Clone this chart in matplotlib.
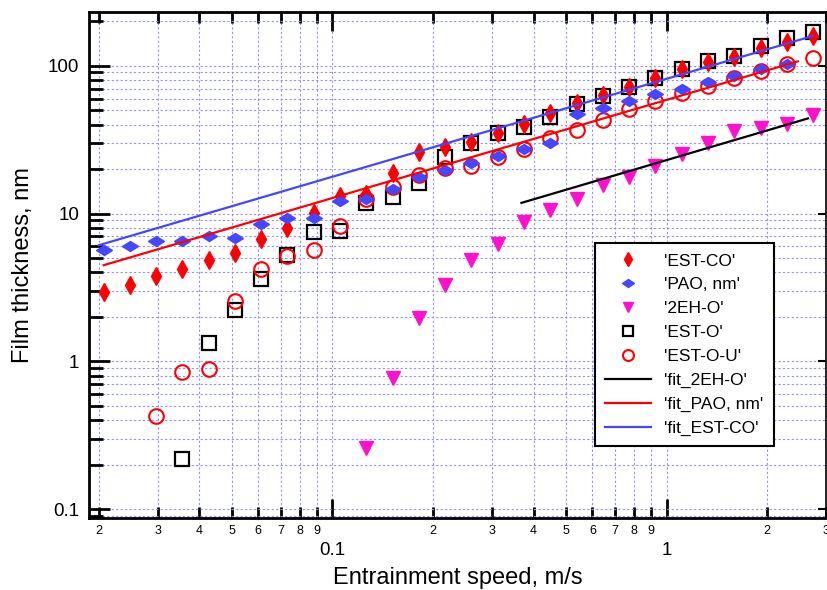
import numpy as np
import matplotlib
matplotlib.use("Agg")
import matplotlib.pyplot as plt
from matplotlib.markers import MarkerStyle
from matplotlib.transforms import Affine2D
from matplotlib.ticker import FixedLocator, FixedFormatter, NullFormatter, LogLocator

plt.rcParams['font.family'] = ['Liberation Sans', 'DejaVu Sans']

# entrainment speeds (m/s), shared by all series
speed = [0.0207, 0.0248, 0.0297, 0.0356, 0.0427, 0.0511, 0.0613, 0.0734, 0.0880,
         0.1055, 0.1264, 0.1515, 0.1816, 0.2177, 0.2608, 0.3126, 0.3747, 0.4491,
         0.5382, 0.6451, 0.7731, 0.9265, 1.110, 1.331, 1.595, 1.911, 2.291, 2.745]

est_co = [2.94, 3.27, 3.78, 4.22, 4.88, 5.41, 6.73, 8.0, 10.1, 13.2, 13.6, 18.9,
          25.9, 28.2, 30.5, 34.8, 40.2, 48.0, 55.6, 63.2, 71.9, 82.8, 94.4, 106,
          115, 132, 145, 160]
pao = [5.70, 6.01, 6.52, 6.56, 7.05, 6.80, 8.50, 9.34, 9.29, 12.06, 12.6, 14.6,
       17.7, 19.6, 21.8, 24.6, 27.5, 29.8, 47.0, 52.0, 57.8, 63.9, 69.2, 77.9,
       85.1, 94.8, 103]
eh2_o = [0.26, 0.776, 1.96, 3.27, 4.88, 6.2, 8.77, 10.5, 12.5, 15.5, 17.7, 20.9,
         25.1, 30.2, 36.3, 37.6, 40.2, 46.6]          # starts at speed[10]
est_o = [0.219, 1.32, 2.24, 3.59, 5.22, 7.51, 7.63, 11.7, 12.9, 16.1, 24.2, 30.2,
         34.8, 38.6, 44.7, 54.7, 62.5, 72.3, 82.8, 95.3, 107, 116, 136, 153, 169]  # from speed[3]
est_o_u = [0.424, 0.846, 0.892, 2.55, 4.24, 5.15, 5.70, 8.20, 12.6, 15.1, 18.2,
           20.2, 20.9, 24.2, 27.2, 32.5, 37.0, 43.0, 50.7, 57.8, 64.9, 73.1, 82.0,
           92.4, 102, 112]                               # from speed[2]

# power-law fit lines (end points)
fit_2eh_x, fit_2eh_y = [0.368, 2.65], [11.8, 44.0]
fit_pao_x, fit_pao_y = [0.0207, 2.47], [4.47, 107]
fit_estco_x, fit_estco_y = [0.020, 2.74], [6.1, 159]

x_major = [0.1, 1]
x_major_labels = ['0.1', '1']
x_minor = [0.02, 0.03, 0.04, 0.05, 0.06, 0.07, 0.08, 0.09,
           0.2, 0.3, 0.4, 0.5, 0.6, 0.7, 0.8, 0.9, 2, 3]
x_minor_labels = ['2', '3', '4', '5', '6', '7', '8', '9',
                  '2', '3', '4', '5', '6', '7', '8', '9', '2', '3']
y_major = [0.1, 1, 10, 100]
y_major_labels = ['0.1', '1', '10', '100']

blue = '#4646ff'
magenta = '#ff10cc'

fig = plt.figure(figsize=(8.27, 5.90), dpi=100)
ax = fig.add_axes([0.1076, 0.122, 0.8912, 0.8577])
ax.set_xscale('log')
ax.set_yscale('log')

hdiamond = MarkerStyle('d', transform=Affine2D().rotate_deg(90))

h_co, = ax.plot(speed, est_co, ls='none', marker='d', ms=9, color='red', mec='red', label="'EST-CO'", zorder=4)
h_pao, = ax.plot(speed[:len(pao)], pao, ls='none', marker=hdiamond, ms=8.5, color=blue, mec=blue, label="'PAO, nm'", zorder=4)
h_eh, = ax.plot(speed[10:], eh2_o, ls='none', marker='v', ms=10.5, color=magenta, mec=magenta, label="'2EH-O'", zorder=3)
h_o, = ax.plot(speed[3:], est_o, ls='none', marker='s', ms=9.5, mfc='none', mec='black', mew=1.6, label="'EST-O'", zorder=3)
h_ou, = ax.plot(speed[2:], est_o_u, ls='none', marker='o', ms=10.5, mfc='none', mec='red', mew=1.5, label="'EST-O-U'", zorder=3)

f_eh, = ax.plot(fit_2eh_x, fit_2eh_y, color='black', lw=1.6, label="'fit_2EH-O'", zorder=5)
f_pao, = ax.plot(fit_pao_x, fit_pao_y, color='red', lw=1.6, label="'fit_PAO, nm'", zorder=5)
f_co, = ax.plot(fit_estco_x, fit_estco_y, color=blue, lw=1.6, label="'fit_EST-CO'", zorder=5)

ax.set_xlim(0.0187, 3.0)
ax.set_ylim(0.087, 231)

ax.xaxis.set_major_locator(FixedLocator(x_major))
ax.xaxis.set_major_formatter(FixedFormatter(x_major_labels))
ax.xaxis.set_minor_locator(FixedLocator(x_minor))
ax.xaxis.set_minor_formatter(FixedFormatter(x_minor_labels))
ax.yaxis.set_major_locator(FixedLocator(y_major))
ax.yaxis.set_major_formatter(FixedFormatter(y_major_labels))
ax.yaxis.set_minor_locator(LogLocator(base=10, subs=np.arange(2, 10), numticks=20))
ax.yaxis.set_minor_formatter(NullFormatter())

ax.tick_params(which='both', direction='in', top=True, right=True, width=2)
ax.tick_params(axis='x', which='major', length=14, labelsize=13.5, pad=17)
ax.tick_params(axis='x', which='minor', length=8, labelsize=9, pad=5)
ax.tick_params(axis='y', which='major', length=15, labelsize=13.5, pad=7)
ax.tick_params(axis='y', which='minor', length=10, right=False)
for t in ax.yaxis.get_major_ticks():
    t.tick2line.set_markersize(6)
    t.tick2line.set_markeredgewidth(1.5)

for side in ['left', 'bottom', 'top']:
    ax.spines[side].set_linewidth(2)
ax.spines['right'].set_linewidth(1.2)

ax.set_axisbelow(True)
ax.grid(True, which='both', color='#9090ff', ls=(0, (2, 2)), lw=0.8)

ax.set_xlabel('Entrainment speed, m/s', fontsize=17, labelpad=6)
ax.set_ylabel('Film thickness, nm', fontsize=17, labelpad=10)

leg = ax.legend(handles=[h_co, h_pao, h_eh, h_o, h_ou, f_eh, f_pao, f_co],
                loc='upper left', bbox_to_anchor=(0.6866, 0.5435), borderaxespad=0,
                fontsize=12.5, fancybox=False, framealpha=1, edgecolor='black',
                handlelength=2.6, markerscale=0.75, labelspacing=0.5, borderpad=0.6)
leg.get_frame().set_linewidth(1.5)

fig.savefig('out.png', dpi=100)
